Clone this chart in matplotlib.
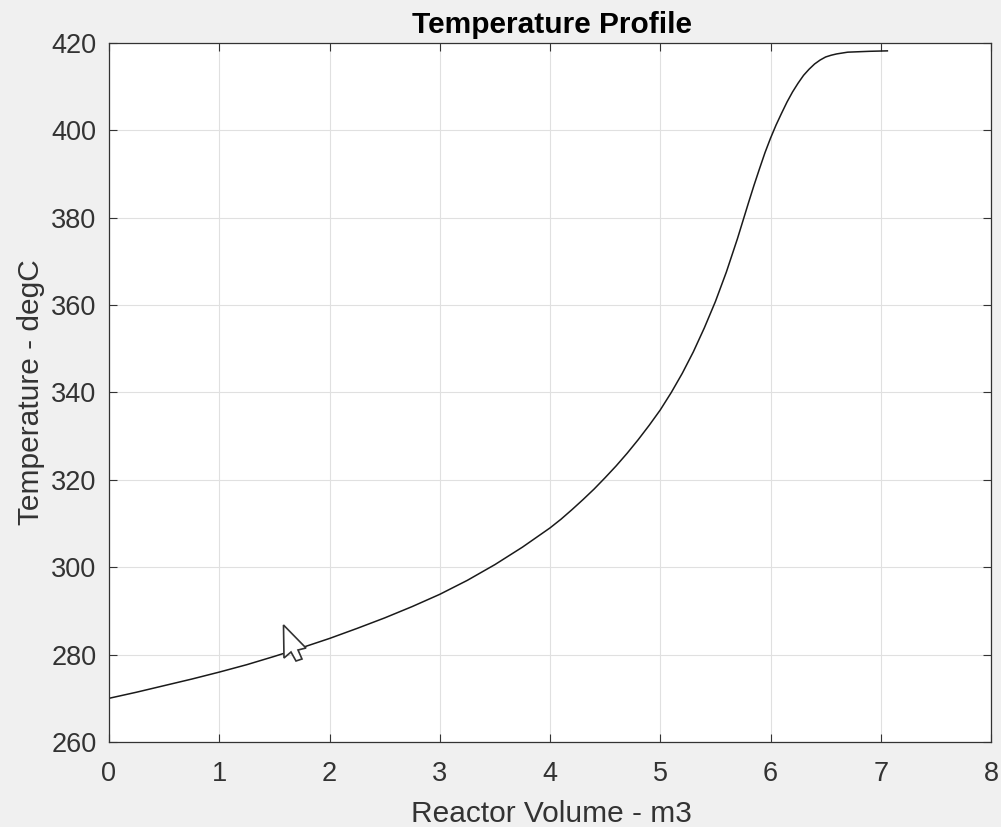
import matplotlib
matplotlib.use("Agg")
import matplotlib.pyplot as plt
from matplotlib.patches import Polygon

volume = [0, 0.25, 0.5, 0.75, 1, 1.25, 1.5, 1.75, 2, 2.25, 2.5, 2.75, 3, 3.25, 3.5, 3.75, 4, 4.1, 4.2, 4.3, 4.4, 4.5,
          4.6, 4.7, 4.8, 4.9, 5, 5.1, 5.2, 5.3, 5.4, 5.5, 5.6, 5.65, 5.7, 5.75, 5.8, 5.85, 5.9, 5.95, 6.0, 6.05, 6.1,
          6.15, 6.2, 6.25, 6.3, 6.35, 6.4, 6.45, 6.5, 6.55, 6.6, 6.7, 6.8, 6.9, 7.06]
temp = [270, 271.4, 272.9, 274.4, 276, 277.7, 279.6, 281.6, 283.7, 286, 288.4, 291, 293.8, 297, 300.6, 304.6, 309, 311,
        313.2, 315.5, 317.9, 320.5, 323.2, 326.1, 329.2, 332.5, 336, 340, 344.4, 349.3, 354.8, 360.8, 367.6, 371.4,
        375.2, 379.3, 383.4, 387.4, 391.2, 394.9, 398.2, 401.2, 403.9, 406.5, 408.8, 410.8, 412.6, 414, 415.2, 416.1,
        416.8, 417.2, 417.5, 417.9, 418, 418.1, 418.2]
xticks = [0, 1, 2, 3, 4, 5, 6, 7, 8]
yticks = [260, 280, 300, 320, 340, 360, 380, 400, 420]
# mouse pointer caught in the screenshot, in image pixels
cursor_x = [283.5, 284, 291, 296, 302, 298, 306]
cursor_y = [625, 658, 652, 661, 659, 650, 648]

W, H = 1001, 827

plt.rcParams["font.family"] = ["Liberation Sans", "DejaVu Sans"]

fig = plt.figure(figsize=(W / 100, H / 100), dpi=100, facecolor="#f0f0f0")
ax = fig.add_axes([109 / W, 1 - 742 / H, (991 - 109) / W, (742 - 43) / H])
ax.plot(volume, temp, color="#1a1a1a", linewidth=1.1)
ax.set_xlim(0, 8)
ax.set_ylim(260, 420)
ax.set_xticks(xticks)
ax.set_yticks(yticks)
ax.grid(True, color="#e0e0e0", linewidth=0.8)
ax.tick_params(direction="in", length=6, width=0.8, labelsize=19.5, colors="#333333", top=True, right=True)
ax.tick_params(axis="x", pad=14)
ax.tick_params(axis="y", pad=9)
for s in ax.spines.values():
    s.set_linewidth(0.9)
    s.set_color("#333333")
ax.set_title("Temperature Profile", fontsize=21.5, fontweight="bold", pad=7, x=0.502)
ax.set_xlabel("Reactor Volume - m3", fontsize=21.5, color="#333333", labelpad=9, x=0.502)
ax.set_ylabel("Temperature - degC", fontsize=21.5, color="#333333", labelpad=4.5)

pts = [(x / W, 1 - y / H) for x, y in zip(cursor_x, cursor_y)]
fig.add_artist(Polygon(pts, closed=True, facecolor="white", edgecolor="#333333", linewidth=1.2,
                       transform=fig.transFigure, zorder=10))

fig.savefig("out.png", dpi=100, facecolor=fig.get_facecolor())
